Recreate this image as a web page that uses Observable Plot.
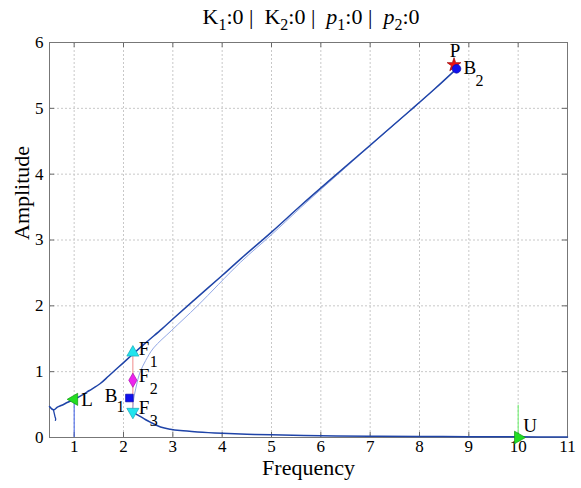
<!DOCTYPE html>
<html><head><meta charset="utf-8">
<script src="https://cdn.jsdelivr.net/npm/d3@7"></script>
<script src="https://cdn.jsdelivr.net/npm/@observablehq/plot@0.6"></script>
<style>body{margin:0;background:#fff}#chart{width:581px;height:488px}</style>
</head><body><div id="chart"></div>
<script>
// ---------- data ----------
const xTicks = [1,2,3,4,5,6,7,8,9,10,11];
const yTicks = [0,1,2,3,4,5,6];

const upperX = [0.50,0.58,0.66,0.75,0.87,1.00,1.15,1.30,1.53,1.70,1.90,2.10,2.27,2.50,2.78,3.00,3.42,4.00,4.37,5.00,5.59,6.20,7.00,7.80,8.30,8.75];
const upperY = [0.47,0.42,0.46,0.49,0.535,0.58,0.64,0.71,0.82,0.935,1.07,1.205,1.32,1.47,1.65,1.80,2.08,2.46,2.71,3.12,3.52,3.92,4.44,4.96,5.29,5.60];

const tailX = [0.58,0.595,0.61,0.625,0.62];
const tailY = [0.42,0.37,0.32,0.28,0.26];

const middleX = [2.18,2.19,2.21,2.25,2.29,2.34,2.45,2.61,2.98,3.50,4.37,5.00,5.59,6.50,7.50,8.20,8.75];
const middleY = [0.40,0.47,0.60,0.75,0.88,1.00,1.17,1.36,1.63,2.00,2.66,3.08,3.49,4.10,4.76,5.22,5.60];

const lowerX = [2.19,2.25,2.34,2.45,2.55,2.75,2.95,3.15,3.50,4.00,4.50,5.00,6.00,7.00,8.00,9.00,10.00,11.00];
const lowerY = [0.39,0.36,0.32,0.27,0.23,0.16,0.125,0.105,0.085,0.065,0.05,0.04,0.027,0.02,0.015,0.012,0.01,0.008];

const pointIds   = ["L","F1","F2","B1","F3","P","B2","U"];
const pointNames = ["L","F","F","B","F","P","B","U"];
const pointSubs  = ["","1","2","1","3","","2",""];
const pointX     = [1.00,2.19,2.19,2.12,2.19,8.70,8.75,10.00];
const pointY     = [0.58,1.29,0.87,0.60,0.39,5.66,5.60,0.00];

const uLineTop = 0.49;

const titleSymbols = ["K","K","p","p"];
const titleSubs    = ["1","2","1","2"];
const titleValues  = ["0","0","0","0"];

const xLabel = "Frequency";
const yLabel = "Amplitude";

// ---------- styles ----------
const serif = "Liberation Serif, Times New Roman, Times, serif";
const W = 581, H = 488, mL = 49, mR = 14, mT = 42, mB = 51;
const pw = W - mL - mR, ph = H - mT - mB;
const dark = "#1f44a8", light = "#93a8e6";
const markerStyle = {
  L:  {symbol:"triangle", rotate:-90, fill:"#22dd22", stroke:"#119911", r:4.5, place:"right"},
  F1: {symbol:"triangle", rotate:0,   fill:"#22e4ee", stroke:"#1aa8b8", r:4.5, place:"rightSub"},
  F2: {symbol:"diamond",  rotate:0,   fill:"#ee22ee", stroke:"#aa10aa", r:4.3, place:"rightSub"},
  B1: {symbol:"square",   rotate:0,   fill:"#1010ee", stroke:"#0808aa", r:4.3, place:"leftSub"},
  F3: {symbol:"triangle", rotate:180, fill:"#22e4ee", stroke:"#1aa8b8", r:4.5, place:"rightSub"},
  P:  {symbol:"star",     rotate:0,   fill:"#ee1111", stroke:"#990000", r:4.3, place:"top"},
  B2: {symbol:"circle",   rotate:0,   fill:"#1010ee", stroke:"#0808aa", r:4.3, place:"rightSub2"},
  U:  {symbol:"triangle", rotate:90,  fill:"#22dd22", stroke:"#119911", r:4.7, place:"upRight"}
};

const toPts = (xs, ys) => xs.map((x, i) => ({x, y: ys[i]}));
const upper = toPts(upperX, upperY);
const tail = toPts(tailX, tailY);
const middle = toPts(middleX, middleY);
const lower = toPts(lowerX, lowerY);
const pts = pointIds.map((id, i) => ({id, name: pointNames[i], sub: pointSubs[i], x: pointX[i], y: pointY[i], ...markerStyle[id]}));
const P = Object.fromEntries(pts.map(d => [d.id, d]));

const byPlace = p => pts.filter(d => d.place === p);
const withSub = p => pts.filter(d => d.place === p && d.sub);
const txt = (o) => ({fontFamily: serif, fill: "#000", ...o});

const plot = Plot.plot({
  width: W, height: H,
  marginLeft: mL, marginRight: mR, marginTop: mT, marginBottom: mB,
  style: {fontFamily: serif, background: "#fff", overflow: "visible", color: "#000"},
  x: {domain: [0.5, 11], axis: null},
  y: {domain: [0, 6], axis: null},
  r: {type: "identity"},
  marks: [
    Plot.gridX(xTicks, {stroke: "#c8c8c8", strokeOpacity: 1, strokeDasharray: "2,2"}),
    Plot.gridY(yTicks, {stroke: "#c8c8c8", strokeOpacity: 1, strokeDasharray: "2,2"}),
    // inward ticks on all four sides
    Plot.tickX(xTicks, {x: d => d, stroke: "#666", insetBottom: ph - 5}),
    Plot.tickX(xTicks, {x: d => d, stroke: "#666", insetTop: ph - 5}),
    Plot.tickY(yTicks, {y: d => d, stroke: "#666", insetRight: pw - 5}),
    Plot.tickY(yTicks, {y: d => d, stroke: "#666", insetLeft: pw - 5}),
    Plot.frame({stroke: "#777"}),
    // tick labels
    Plot.text(xTicks, txt({x: d => d, frameAnchor: "bottom", text: d => String(d), dy: 14, fontSize: 17})),
    Plot.text(yTicks, txt({y: d => d, frameAnchor: "left", text: d => String(d), textAnchor: "end", dx: -6, fontSize: 17})),
    Plot.text([xLabel], txt({frameAnchor: "bottom", dy: 37, fontSize: 22})),
    Plot.text([yLabel], txt({frameAnchor: "left", dx: -28, rotate: -90, fontSize: 22})),
    // vertical connector rules
    Plot.ruleX([P.L], {x: "x", y1: 0, y2: "y", stroke: "#3a5ce6", strokeWidth: 1}),
    Plot.ruleX([P.U], {x: "x", y1: 0, y2: uLineTop, stroke: "#66ee66", strokeWidth: 1}),
    Plot.ruleX([{x: P.F1.x, y1: P.F3.y, y2: P.F1.y}], {x: "x", y1: "y1", y2: "y2", stroke: "#f08a8a", strokeWidth: 1}),
    // branches
    Plot.line(middle, {x: "x", y: "y", stroke: light, strokeWidth: 1, curve: "catmull-rom"}),
    Plot.line(upper, {x: "x", y: "y", stroke: dark, strokeWidth: 1.5, curve: "catmull-rom"}),
    Plot.line(tail, {x: "x", y: "y", stroke: dark, strokeWidth: 1.3, curve: "catmull-rom"}),
    Plot.line(lower, {x: "x", y: "y", stroke: dark, strokeWidth: 1.5, curve: "catmull-rom"}),
    // markers
    Plot.dot(pts, {x: "x", y: "y", symbol: d => d.symbol, rotate: d => d.rotate, fill: d => d.fill, stroke: d => d.stroke, strokeWidth: 0.7, r: d => d.r}),
    // labels
    Plot.text(byPlace("right"), txt({x: "x", y: "y", text: "name", textAnchor: "start", dx: 7, dy: 1, fontSize: 19})),
    Plot.text(byPlace("rightSub"), txt({x: "x", y: "y", text: "name", textAnchor: "start", dx: 6, dy: -4, fontSize: 19})),
    Plot.text(withSub("rightSub"), txt({x: "x", y: "y", text: "sub", textAnchor: "start", dx: 17, dy: 9, fontSize: 16})),
    Plot.text(byPlace("leftSub"), txt({x: "x", y: "y", text: "name", textAnchor: "end", dx: -12, dy: -2, fontSize: 19})),
    Plot.text(withSub("leftSub"), txt({x: "x", y: "y", text: "sub", textAnchor: "end", dx: -5, dy: 9, fontSize: 16})),
    Plot.text(byPlace("rightSub2"), txt({x: "x", y: "y", text: "name", textAnchor: "start", dx: 7, dy: -1, fontSize: 19})),
    Plot.text(withSub("rightSub2"), txt({x: "x", y: "y", text: "sub", textAnchor: "start", dx: 19, dy: 12, fontSize: 16})),
    Plot.text(byPlace("top"), txt({x: "x", y: "y", text: "name", textAnchor: "middle", dx: 1, dy: -14, fontSize: 19})),
    Plot.text(byPlace("upRight"), txt({x: "x", y: "y", text: "name", textAnchor: "start", dx: 5, dy: -12, fontSize: 19}))
  ]
});

// title with subscripts
const svg = d3.select(plot);
const t = svg.append("text")
  .attr("x", mL + pw / 2 + 3).attr("y", 24)
  .attr("text-anchor", "middle")
  .attr("font-size", 22).attr("font-family", serif).attr("fill", "#000")
  .style("white-space", "pre");
titleSymbols.forEach((s, i) => {
  t.append("tspan").attr("font-style", i >= 2 ? "italic" : "normal").text(s);
  t.append("tspan").attr("font-size", 16).attr("dy", 6).text(titleSubs[i]);
  t.append("tspan").attr("dy", -6).text(":" + titleValues[i]);
  if (i < titleSymbols.length - 1) t.append("tspan").text(" |  ");
});

document.getElementById("chart").appendChild(plot);
</script>
</body></html>
